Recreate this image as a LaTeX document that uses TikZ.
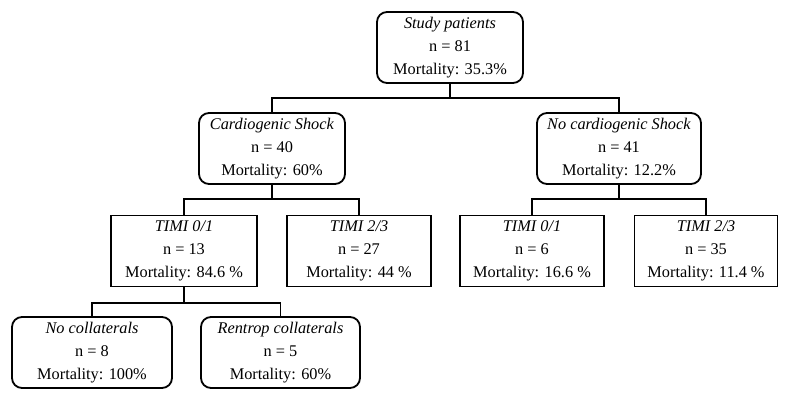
\documentclass[tikz,border=0pt]{standalone}
\usepackage{fontspec}
\setmainfont{Liberation Serif}
\begin{document}
\begin{tikzpicture}[x=1pt,y=1pt,
  box/.style={draw,line width=1.8pt,align=center,inner sep=0pt,
    font=\fontsize{16.3}{23}\selectfont,minimum height=71pt},
  rbox/.style={box,rounded corners=10pt},
  sbox/.style={box,rounded corners=0pt},
  conn/.style={line width=1.8pt}]
\useasboundingbox (0,0) rectangle (789,-400);
\node[rbox,minimum width=146pt] (root) at (450,-47.5) {\textit{Study patients}\\n = 81\\Mortality: 35.3\%};
\node[rbox,minimum width=146pt] (cs) at (272,-148.5) {\textit{Cardiogenic Shock}\\n = 40\\Mortality: 60\%};
\node[rbox,minimum width=164pt] (ncs) at (619,-148.5) {\textit{No cardiogenic Shock}\\n = 41\\Mortality: 12.2\%};
\node[sbox,minimum width=146pt] (t1l) at (184,-251) {\textit{TIMI 0/1}\\n = 13\\Mortality: 84.6 \%};
\node[sbox,minimum width=144pt] (t2l) at (359,-251) {\textit{TIMI 2/3}\\n = 27\\Mortality: 44 \%};
\node[sbox,minimum width=144pt] (t1r) at (532,-251) {\textit{TIMI 0/1}\\n = 6\\Mortality: 16.6 \%};
\node[sbox,minimum width=143pt] (t2r) at (706,-251) {\textit{TIMI 2/3}\\n = 35\\Mortality: 11.4 \%};
\node[rbox,minimum width=160pt] (nc) at (92,-352.5) {\textit{No collaterals}\\n = 8\\Mortality: 100\%};
\node[rbox,minimum width=159pt] (rc) at (280.5,-352.5) {\textit{Rentrop collaterals}\\n = 5\\Mortality: 60\%};
\coordinate (j1) at (450,-98);
\coordinate (j2) at (272,-199);
\coordinate (j3) at (619,-199);
\coordinate (j4) at (184,-303);
\draw[conn] (root.south) -- (j1);
\draw[conn] (j1) -| (cs.north);
\draw[conn] (j1) -| (ncs.north);
\draw[conn] (cs.south) -- (j2);
\draw[conn] (j2) -| (t1l.north);
\draw[conn] (j2) -| (t2l.north);
\draw[conn] (ncs.south) -- (j3);
\draw[conn] (j3) -| (t1r.north);
\draw[conn] (j3) -| (t2r.north);
\draw[conn] (t1l.south) -- (j4);
\draw[conn] (j4) -| (nc.north);
\draw[conn] (j4) -| (rc.north);
\end{tikzpicture}
\end{document}
